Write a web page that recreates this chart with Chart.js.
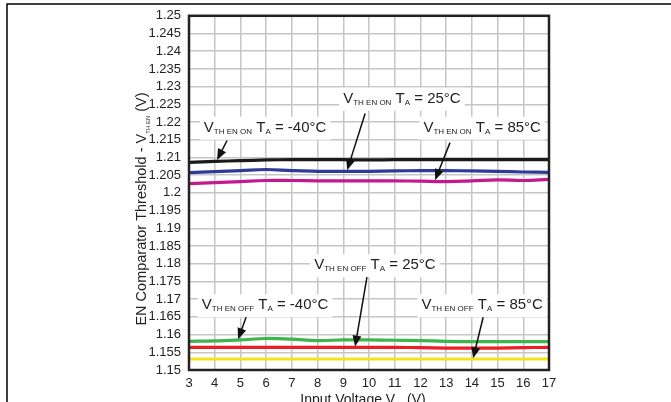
<!DOCTYPE html>
<html>
<head>
<meta charset="utf-8">
<script src="https://cdn.jsdelivr.net/npm/chart.js@4"></script>
<style>
  html, body { margin: 0; padding: 0; background: #fff; }
  #wrap { width: 671px; height: 402px; }
</style>
</head>
<body>
<div id="wrap"><canvas id="chart" width="671" height="402"></canvas></div>
<script>
// Input voltage (V)
const vin = [3, 4, 5, 6, 7, 8, 9, 10, 11, 12, 13, 14, 15, 16, 17];
const xTicks = [3, 4, 5, 6, 7, 8, 9, 10, 11, 12, 13, 14, 15, 16, 17];
const yTicks = [1.15, 1.155, 1.16, 1.165, 1.17, 1.175, 1.18, 1.185, 1.19, 1.195, 1.2,
                1.205, 1.21, 1.215, 1.22, 1.225, 1.23, 1.235, 1.24, 1.245, 1.25];

// Threshold readings (V)
const onMinus40 = [1.2086, 1.2089, 1.2091, 1.2093, 1.2094, 1.2094, 1.2094, 1.2093, 1.2094, 1.2094, 1.2094, 1.2094, 1.2094, 1.2094, 1.2094];
const on25      = [1.2057, 1.2060, 1.2063, 1.2066, 1.2063, 1.2061, 1.2061, 1.2061, 1.2062, 1.2063, 1.2063, 1.2062, 1.2061, 1.2059, 1.2058];
const on85      = [1.2026, 1.2029, 1.2032, 1.2035, 1.2035, 1.2034, 1.2034, 1.2034, 1.2034, 1.2033, 1.2032, 1.2034, 1.2037, 1.2035, 1.2038];
const offMinus40 = [1.1581, 1.1582, 1.1585, 1.1589, 1.1587, 1.1583, 1.1585, 1.1585, 1.1584, 1.1583, 1.1581, 1.1580, 1.1580, 1.1580, 1.1580];
const off25     = [1.1564, 1.1564, 1.1564, 1.1564, 1.1564, 1.1564, 1.1564, 1.1564, 1.1564, 1.1563, 1.1562, 1.1562, 1.1562, 1.1563, 1.1564];
const off85     = [1.1531, 1.1531, 1.1531, 1.1531, 1.1531, 1.1531, 1.1531, 1.1531, 1.1531, 1.1531, 1.1531, 1.1531, 1.1531, 1.1531, 1.1531];

const FONT = '"Liberation Sans", Arial, sans-serif';

function series(label, values, color) {
    return {
        label: label,
        data: values.map((v, i) => ({ x: vin[i], y: v })),
        borderColor: color,
        borderWidth: 3.2,
        pointRadius: 0,
        tension: 0.4,
        fill: false
    };
}

// callouts: label centre, arrow start and arrow tip in data units
const callouts = [
    { sub: 'TH EN ON',  temp: '25°C',  at: [11.28, 1.2266], from: [9.85, 1.2224], to: [9.15, 1.2064] },
    { sub: 'TH EN ON',  temp: '-40°C', at: [5.96, 1.2184],  from: [4.48, 1.2148], to: [4.09, 1.2093] },
    { sub: 'TH EN ON',  temp: '85°C',  at: [14.40, 1.2184], from: [13.15, 1.2142], to: [12.57, 1.2036] },
    { sub: 'TH EN OFF', temp: '25°C',  at: [10.23, 1.1796], from: [9.92, 1.1762], to: [9.46, 1.1566] },
    { sub: 'TH EN OFF', temp: '-40°C', at: [5.96, 1.1683],  from: [5.22, 1.1649], to: [4.91, 1.1587] },
    { sub: 'TH EN OFF', temp: '85°C',  at: [14.40, 1.1683], from: [14.44, 1.1649], to: [14.05, 1.1533] }
];

// draws text pieces [text, isSub] starting at x, returns total width
function richText(ctx, parts, x, y, size, subSize, measureOnly) {
    let cx = x;
    parts.forEach(p => {
        const sub = p[1];
        ctx.font = (sub ? subSize : size) + 'px ' + FONT;
        if (!measureOnly) ctx.fillText(p[0], cx, sub ? y + 4 : y);
        cx += ctx.measureText(p[0]).width;
    });
    return cx - x;
}

const decorPlugin = {
    id: 'decor',
    beforeDraw(chart) {
        const ctx = chart.ctx;
        ctx.save();
        ctx.fillStyle = '#fff';
        ctx.fillRect(0, 0, chart.width, chart.height);
        ctx.restore();
    },
    afterDraw(chart) {
        const ctx = chart.ctx;
        const xs = chart.scales.x, ys = chart.scales.y;
        const a = chart.chartArea;
        ctx.save();

        // plot frame
        ctx.strokeStyle = '#222';
        ctx.lineWidth = 2.5;
        ctx.strokeRect(a.left, a.top, a.right - a.left, a.bottom - a.top);

        // outer page frame
        ctx.strokeStyle = '#000';
        ctx.lineWidth = 1.5;
        ctx.beginPath();
        ctx.moveTo(7, chart.height);
        ctx.lineTo(7, 4);
        ctx.lineTo(chart.width, 4);
        ctx.stroke();

        // callouts
        ctx.textBaseline = 'middle';
        callouts.forEach(c => {
            const parts = [['V', false], [c.sub, true], [' T', false], ['A', true], [' = ' + c.temp, false]];
            const w = richText(ctx, parts, 0, 0, 15, 8, true);
            const cx = xs.getPixelForValue(c.at[0]);
            const cy = ys.getPixelForValue(c.at[1]);
            ctx.fillStyle = '#fff';
            ctx.fillRect(cx - w / 2 - 4, cy - 11, w + 8, 23);
            ctx.fillStyle = '#222';
            richText(ctx, parts, cx - w / 2, cy, 15, 8, false);

            const x1 = xs.getPixelForValue(c.from[0]), y1 = ys.getPixelForValue(c.from[1]);
            const x2 = xs.getPixelForValue(c.to[0]), y2 = ys.getPixelForValue(c.to[1]);
            const ang = Math.atan2(y2 - y1, x2 - x1);
            ctx.strokeStyle = '#111';
            ctx.lineWidth = 1.5;
            ctx.beginPath();
            ctx.moveTo(x1, y1);
            ctx.lineTo(x2 - 8 * Math.cos(ang), y2 - 8 * Math.sin(ang));
            ctx.stroke();
            ctx.fillStyle = '#111';
            ctx.beginPath();
            ctx.moveTo(x2, y2);
            ctx.lineTo(x2 - 11 * Math.cos(ang) + 4.5 * Math.sin(ang), y2 - 11 * Math.sin(ang) - 4.5 * Math.cos(ang));
            ctx.lineTo(x2 - 11 * Math.cos(ang) - 4.5 * Math.sin(ang), y2 - 11 * Math.sin(ang) + 4.5 * Math.cos(ang));
            ctx.closePath();
            ctx.fill();
        });

        // axis titles
        ctx.fillStyle = '#222';
        ctx.textBaseline = 'alphabetic';
        const xParts = [['Input Voltage V', false], ['IN', true], [' (V)', false]];
        const xw = richText(ctx, xParts, 0, 0, 14, 8, true);
        richText(ctx, xParts, (a.left + a.right) / 2 - xw / 2 - 6, 404, 14, 8, false);

        const yParts = [['EN Comparator Threshold - V', false], ['TH EN', true], [' (V)', false]];
        const yw = richText(ctx, yParts, 0, 0, 14.5, 6, true);
        ctx.translate(146, 209);
        ctx.rotate(-Math.PI / 2);
        richText(ctx, yParts, -yw / 2, 0, 14.5, 6, false);

        ctx.restore();
    }
};

new Chart(document.getElementById('chart'), {
    type: 'line',
    data: {
        datasets: [
            series('VTH EN ON TA = -40°C', onMinus40, '#1a1a1a'),
            series('VTH EN ON TA = 25°C', on25, '#2e3a98'),
            series('VTH EN ON TA = 85°C', on85, '#c4198c'),
            series('VTH EN OFF TA = -40°C', offMinus40, '#3db54a'),
            series('VTH EN OFF TA = 25°C', off25, '#ee1c25'),
            series('VTH EN OFF TA = 85°C', off85, '#f5e41c')
        ]
    },
    options: {
        responsive: false,
        animation: false,
        layout: { padding: { top: 15, right: 122, left: 0, bottom: 0 } },
        plugins: {
            legend: { display: false },
            tooltip: { enabled: false }
        },
        scales: {
            x: {
                type: 'linear',
                min: 3,
                max: 17,
                afterBuildTicks: s => { s.ticks = xTicks.map(v => ({ value: v })); },
                afterFit: s => { s.height = 32; },
                grid: { color: '#c6c6c6', lineWidth: 1.5, drawTicks: false },
                border: { display: false },
                ticks: {
                    padding: 6,
                    color: '#222',
                    font: { family: FONT, size: 13 },
                    maxRotation: 0,
                    autoSkip: false,
                    callback: v => String(v)
                }
            },
            y: {
                min: 1.15,
                max: 1.25,
                afterBuildTicks: s => { s.ticks = yTicks.map(v => ({ value: v })); },
                afterFit: s => { s.width = 189; },
                grid: { color: '#c6c6c6', lineWidth: 1.5, drawTicks: false },
                border: { display: false },
                ticks: {
                    padding: 8,
                    color: '#222',
                    font: { family: FONT, size: 13 },
                    autoSkip: false,
                    callback: v => String(+v.toFixed(3))
                }
            }
        }
    },
    plugins: [decorPlugin]
});
</script>
</body>
</html>
